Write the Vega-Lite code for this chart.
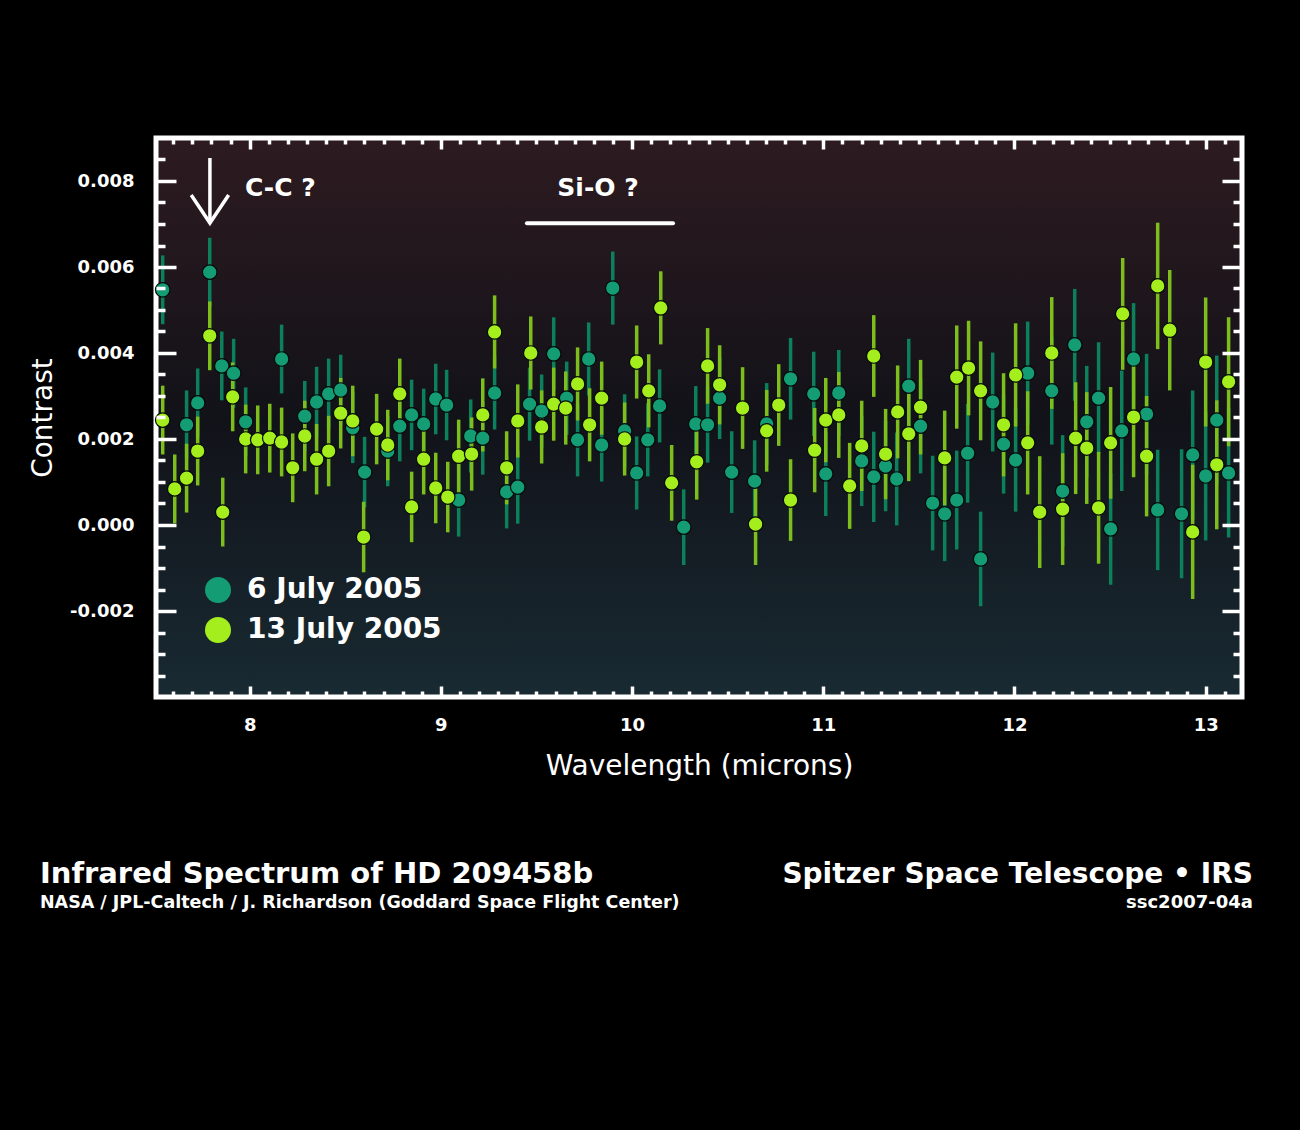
{
  "$schema": "https://vega.github.io/schema/vega-lite/v6.json",
  "width": 1086,
  "height": 559,
  "autosize": {"type": "none"},
  "padding": {"left": 156, "top": 138, "right": 58, "bottom": 433},
  "background": "#000000",
  "config": {"view": {"stroke": null}},
  "datasets": {
    "spectrum": [
      {"wavelength": 7.545, "contrast": 0.00547, "error": 0.0008, "date": "6 July 2005"},
      {"wavelength": 7.670, "contrast": 0.00233, "error": 0.0008, "date": "6 July 2005"},
      {"wavelength": 7.728, "contrast": 0.00284, "error": 0.0008, "date": "6 July 2005"},
      {"wavelength": 7.791, "contrast": 0.00588, "error": 0.0008, "date": "6 July 2005"},
      {"wavelength": 7.854, "contrast": 0.00370, "error": 0.0008, "date": "6 July 2005"},
      {"wavelength": 7.916, "contrast": 0.00353, "error": 0.0008, "date": "6 July 2005"},
      {"wavelength": 7.979, "contrast": 0.00240, "error": 0.0008, "date": "6 July 2005"},
      {"wavelength": 8.167, "contrast": 0.00386, "error": 0.0008, "date": "6 July 2005"},
      {"wavelength": 8.288, "contrast": 0.00253, "error": 0.00082, "date": "6 July 2005"},
      {"wavelength": 8.350, "contrast": 0.00286, "error": 0.00082, "date": "6 July 2005"},
      {"wavelength": 8.413, "contrast": 0.00305, "error": 0.00082, "date": "6 July 2005"},
      {"wavelength": 8.476, "contrast": 0.00314, "error": 0.00082, "date": "6 July 2005"},
      {"wavelength": 8.539, "contrast": 0.00226, "error": 0.00082, "date": "6 July 2005"},
      {"wavelength": 8.601, "contrast": 0.00123, "error": 0.00082, "date": "6 July 2005"},
      {"wavelength": 8.722, "contrast": 0.00172, "error": 0.00082, "date": "6 July 2005"},
      {"wavelength": 8.785, "contrast": 0.00230, "error": 0.00082, "date": "6 July 2005"},
      {"wavelength": 8.847, "contrast": 0.00256, "error": 0.00082, "date": "6 July 2005"},
      {"wavelength": 8.910, "contrast": 0.00235, "error": 0.00082, "date": "6 July 2005"},
      {"wavelength": 8.973, "contrast": 0.00293, "error": 0.00082, "date": "6 July 2005"},
      {"wavelength": 9.030, "contrast": 0.00279, "error": 0.00082, "date": "6 July 2005"},
      {"wavelength": 9.093, "contrast": 0.00058, "error": 0.00085, "date": "6 July 2005"},
      {"wavelength": 9.156, "contrast": 0.00207, "error": 0.00085, "date": "6 July 2005"},
      {"wavelength": 9.219, "contrast": 0.00202, "error": 0.00085, "date": "6 July 2005"},
      {"wavelength": 9.281, "contrast": 0.00307, "error": 0.00085, "date": "6 July 2005"},
      {"wavelength": 9.344, "contrast": 0.00077, "error": 0.00085, "date": "6 July 2005"},
      {"wavelength": 9.402, "contrast": 0.00088, "error": 0.00085, "date": "6 July 2005"},
      {"wavelength": 9.464, "contrast": 0.00281, "error": 0.00085, "date": "6 July 2005"},
      {"wavelength": 9.527, "contrast": 0.00265, "error": 0.00085, "date": "6 July 2005"},
      {"wavelength": 9.590, "contrast": 0.00398, "error": 0.00085, "date": "6 July 2005"},
      {"wavelength": 9.658, "contrast": 0.00295, "error": 0.00085, "date": "6 July 2005"},
      {"wavelength": 9.715, "contrast": 0.00198, "error": 0.00085, "date": "6 July 2005"},
      {"wavelength": 9.773, "contrast": 0.00386, "error": 0.00085, "date": "6 July 2005"},
      {"wavelength": 9.841, "contrast": 0.00186, "error": 0.00085, "date": "6 July 2005"},
      {"wavelength": 9.899, "contrast": 0.00551, "error": 0.00085, "date": "6 July 2005"},
      {"wavelength": 9.961, "contrast": 0.00219, "error": 0.00085, "date": "6 July 2005"},
      {"wavelength": 10.024, "contrast": 0.00121, "error": 0.00085, "date": "6 July 2005"},
      {"wavelength": 10.082, "contrast": 0.00198, "error": 0.00085, "date": "6 July 2005"},
      {"wavelength": 10.144, "contrast": 0.00277, "error": 0.00085, "date": "6 July 2005"},
      {"wavelength": 10.270, "contrast": -0.00005, "error": 0.00088, "date": "6 July 2005"},
      {"wavelength": 10.333, "contrast": 0.00235, "error": 0.00088, "date": "6 July 2005"},
      {"wavelength": 10.395, "contrast": 0.00233, "error": 0.00088, "date": "6 July 2005"},
      {"wavelength": 10.458, "contrast": 0.00295, "error": 0.00095, "date": "6 July 2005"},
      {"wavelength": 10.521, "contrast": 0.00123, "error": 0.00095, "date": "6 July 2005"},
      {"wavelength": 10.641, "contrast": 0.00102, "error": 0.00095, "date": "6 July 2005"},
      {"wavelength": 10.704, "contrast": 0.00235, "error": 0.00095, "date": "6 July 2005"},
      {"wavelength": 10.829, "contrast": 0.00340, "error": 0.00095, "date": "6 July 2005"},
      {"wavelength": 10.950, "contrast": 0.00305, "error": 0.00098, "date": "6 July 2005"},
      {"wavelength": 11.013, "contrast": 0.00119, "error": 0.00098, "date": "6 July 2005"},
      {"wavelength": 11.081, "contrast": 0.00307, "error": 0.001, "date": "6 July 2005"},
      {"wavelength": 11.201, "contrast": 0.00149, "error": 0.00105, "date": "6 July 2005"},
      {"wavelength": 11.264, "contrast": 0.00112, "error": 0.00105, "date": "6 July 2005"},
      {"wavelength": 11.326, "contrast": 0.00137, "error": 0.00105, "date": "6 July 2005"},
      {"wavelength": 11.384, "contrast": 0.00107, "error": 0.00108, "date": "6 July 2005"},
      {"wavelength": 11.447, "contrast": 0.00323, "error": 0.0011, "date": "6 July 2005"},
      {"wavelength": 11.509, "contrast": 0.00230, "error": 0.0011, "date": "6 July 2005"},
      {"wavelength": 11.572, "contrast": 0.00051, "error": 0.0011, "date": "6 July 2005"},
      {"wavelength": 11.635, "contrast": 0.00026, "error": 0.0011, "date": "6 July 2005"},
      {"wavelength": 11.698, "contrast": 0.00058, "error": 0.00115, "date": "6 July 2005"},
      {"wavelength": 11.755, "contrast": 0.00167, "error": 0.00115, "date": "6 July 2005"},
      {"wavelength": 11.823, "contrast": -0.00079, "error": 0.0011, "date": "6 July 2005"},
      {"wavelength": 11.886, "contrast": 0.00286, "error": 0.00115, "date": "6 July 2005"},
      {"wavelength": 11.943, "contrast": 0.00188, "error": 0.00115, "date": "6 July 2005"},
      {"wavelength": 12.006, "contrast": 0.00151, "error": 0.0012, "date": "6 July 2005"},
      {"wavelength": 12.069, "contrast": 0.00353, "error": 0.0012, "date": "6 July 2005"},
      {"wavelength": 12.195, "contrast": 0.00312, "error": 0.00125, "date": "6 July 2005"},
      {"wavelength": 12.252, "contrast": 0.00079, "error": 0.0013, "date": "6 July 2005"},
      {"wavelength": 12.315, "contrast": 0.00419, "error": 0.0013, "date": "6 July 2005"},
      {"wavelength": 12.378, "contrast": 0.00240, "error": 0.0013, "date": "6 July 2005"},
      {"wavelength": 12.440, "contrast": 0.00295, "error": 0.0013, "date": "6 July 2005"},
      {"wavelength": 12.503, "contrast": -0.00009, "error": 0.0013, "date": "6 July 2005"},
      {"wavelength": 12.561, "contrast": 0.00219, "error": 0.0014, "date": "6 July 2005"},
      {"wavelength": 12.623, "contrast": 0.00386, "error": 0.0013, "date": "6 July 2005"},
      {"wavelength": 12.691, "contrast": 0.00258, "error": 0.0014, "date": "6 July 2005"},
      {"wavelength": 12.749, "contrast": 0.00035, "error": 0.0014, "date": "6 July 2005"},
      {"wavelength": 12.874, "contrast": 0.00026, "error": 0.0015, "date": "6 July 2005"},
      {"wavelength": 12.932, "contrast": 0.00163, "error": 0.0015, "date": "6 July 2005"},
      {"wavelength": 13.000, "contrast": 0.00114, "error": 0.0015, "date": "6 July 2005"},
      {"wavelength": 13.058, "contrast": 0.00244, "error": 0.0015, "date": "6 July 2005"},
      {"wavelength": 13.120, "contrast": 0.00121, "error": 0.0015, "date": "6 July 2005"},
      {"wavelength": 7.545, "contrast": 0.00244, "error": 0.0008, "date": "13 July 2005"},
      {"wavelength": 7.608, "contrast": 0.00084, "error": 0.0008, "date": "13 July 2005"},
      {"wavelength": 7.670, "contrast": 0.00109, "error": 0.0008, "date": "13 July 2005"},
      {"wavelength": 7.728, "contrast": 0.00172, "error": 0.0008, "date": "13 July 2005"},
      {"wavelength": 7.791, "contrast": 0.00440, "error": 0.0008, "date": "13 July 2005"},
      {"wavelength": 7.859, "contrast": 0.00030, "error": 0.0008, "date": "13 July 2005"},
      {"wavelength": 7.911, "contrast": 0.00298, "error": 0.0008, "date": "13 July 2005"},
      {"wavelength": 7.979, "contrast": 0.00200, "error": 0.0008, "date": "13 July 2005"},
      {"wavelength": 8.042, "contrast": 0.00198, "error": 0.0008, "date": "13 July 2005"},
      {"wavelength": 8.105, "contrast": 0.00202, "error": 0.0008, "date": "13 July 2005"},
      {"wavelength": 8.167, "contrast": 0.00193, "error": 0.0008, "date": "13 July 2005"},
      {"wavelength": 8.225, "contrast": 0.00133, "error": 0.0008, "date": "13 July 2005"},
      {"wavelength": 8.288, "contrast": 0.00207, "error": 0.00082, "date": "13 July 2005"},
      {"wavelength": 8.350, "contrast": 0.00153, "error": 0.00082, "date": "13 July 2005"},
      {"wavelength": 8.413, "contrast": 0.00172, "error": 0.00082, "date": "13 July 2005"},
      {"wavelength": 8.476, "contrast": 0.00260, "error": 0.00082, "date": "13 July 2005"},
      {"wavelength": 8.539, "contrast": 0.00242, "error": 0.00082, "date": "13 July 2005"},
      {"wavelength": 8.596, "contrast": -0.00028, "error": 0.00082, "date": "13 July 2005"},
      {"wavelength": 8.664, "contrast": 0.00223, "error": 0.00082, "date": "13 July 2005"},
      {"wavelength": 8.722, "contrast": 0.00186, "error": 0.00082, "date": "13 July 2005"},
      {"wavelength": 8.785, "contrast": 0.00305, "error": 0.00082, "date": "13 July 2005"},
      {"wavelength": 8.847, "contrast": 0.00042, "error": 0.00082, "date": "13 July 2005"},
      {"wavelength": 8.910, "contrast": 0.00153, "error": 0.00082, "date": "13 July 2005"},
      {"wavelength": 8.973, "contrast": 0.00086, "error": 0.00082, "date": "13 July 2005"},
      {"wavelength": 9.036, "contrast": 0.00065, "error": 0.00082, "date": "13 July 2005"},
      {"wavelength": 9.093, "contrast": 0.00160, "error": 0.00085, "date": "13 July 2005"},
      {"wavelength": 9.161, "contrast": 0.00165, "error": 0.00085, "date": "13 July 2005"},
      {"wavelength": 9.219, "contrast": 0.00256, "error": 0.00085, "date": "13 July 2005"},
      {"wavelength": 9.281, "contrast": 0.00449, "error": 0.00085, "date": "13 July 2005"},
      {"wavelength": 9.344, "contrast": 0.00133, "error": 0.00085, "date": "13 July 2005"},
      {"wavelength": 9.402, "contrast": 0.00242, "error": 0.00085, "date": "13 July 2005"},
      {"wavelength": 9.470, "contrast": 0.00400, "error": 0.00085, "date": "13 July 2005"},
      {"wavelength": 9.527, "contrast": 0.00228, "error": 0.00085, "date": "13 July 2005"},
      {"wavelength": 9.590, "contrast": 0.00281, "error": 0.00085, "date": "13 July 2005"},
      {"wavelength": 9.653, "contrast": 0.00272, "error": 0.00085, "date": "13 July 2005"},
      {"wavelength": 9.715, "contrast": 0.00328, "error": 0.00085, "date": "13 July 2005"},
      {"wavelength": 9.778, "contrast": 0.00233, "error": 0.00085, "date": "13 July 2005"},
      {"wavelength": 9.841, "contrast": 0.00295, "error": 0.00085, "date": "13 July 2005"},
      {"wavelength": 9.961, "contrast": 0.00200, "error": 0.00085, "date": "13 July 2005"},
      {"wavelength": 10.024, "contrast": 0.00379, "error": 0.00085, "date": "13 July 2005"},
      {"wavelength": 10.087, "contrast": 0.00312, "error": 0.00085, "date": "13 July 2005"},
      {"wavelength": 10.150, "contrast": 0.00505, "error": 0.00085, "date": "13 July 2005"},
      {"wavelength": 10.207, "contrast": 0.00098, "error": 0.00088, "date": "13 July 2005"},
      {"wavelength": 10.338, "contrast": 0.00147, "error": 0.00088, "date": "13 July 2005"},
      {"wavelength": 10.395, "contrast": 0.00370, "error": 0.00088, "date": "13 July 2005"},
      {"wavelength": 10.458, "contrast": 0.00326, "error": 0.00092, "date": "13 July 2005"},
      {"wavelength": 10.578, "contrast": 0.00272, "error": 0.00095, "date": "13 July 2005"},
      {"wavelength": 10.646, "contrast": 0.00002, "error": 0.00095, "date": "13 July 2005"},
      {"wavelength": 10.704, "contrast": 0.00219, "error": 0.00095, "date": "13 July 2005"},
      {"wavelength": 10.767, "contrast": 0.00279, "error": 0.00095, "date": "13 July 2005"},
      {"wavelength": 10.829, "contrast": 0.00058, "error": 0.00095, "date": "13 July 2005"},
      {"wavelength": 10.955, "contrast": 0.00174, "error": 0.00098, "date": "13 July 2005"},
      {"wavelength": 11.013, "contrast": 0.00244, "error": 0.00098, "date": "13 July 2005"},
      {"wavelength": 11.081, "contrast": 0.00256, "error": 0.001, "date": "13 July 2005"},
      {"wavelength": 11.138, "contrast": 0.00091, "error": 0.001, "date": "13 July 2005"},
      {"wavelength": 11.201, "contrast": 0.00184, "error": 0.00105, "date": "13 July 2005"},
      {"wavelength": 11.264, "contrast": 0.00393, "error": 0.00095, "date": "13 July 2005"},
      {"wavelength": 11.326, "contrast": 0.00165, "error": 0.00105, "date": "13 July 2005"},
      {"wavelength": 11.389, "contrast": 0.00263, "error": 0.00108, "date": "13 July 2005"},
      {"wavelength": 11.447, "contrast": 0.00212, "error": 0.0011, "date": "13 July 2005"},
      {"wavelength": 11.509, "contrast": 0.00274, "error": 0.0011, "date": "13 July 2005"},
      {"wavelength": 11.635, "contrast": 0.00156, "error": 0.0011, "date": "13 July 2005"},
      {"wavelength": 11.698, "contrast": 0.00344, "error": 0.0012, "date": "13 July 2005"},
      {"wavelength": 11.760, "contrast": 0.00365, "error": 0.0011, "date": "13 July 2005"},
      {"wavelength": 11.823, "contrast": 0.00312, "error": 0.00115, "date": "13 July 2005"},
      {"wavelength": 11.943, "contrast": 0.00233, "error": 0.0012, "date": "13 July 2005"},
      {"wavelength": 12.006, "contrast": 0.00349, "error": 0.0012, "date": "13 July 2005"},
      {"wavelength": 12.069, "contrast": 0.00191, "error": 0.0012, "date": "13 July 2005"},
      {"wavelength": 12.132, "contrast": 0.00030, "error": 0.0013, "date": "13 July 2005"},
      {"wavelength": 12.195, "contrast": 0.00400, "error": 0.0013, "date": "13 July 2005"},
      {"wavelength": 12.252, "contrast": 0.00037, "error": 0.0013, "date": "13 July 2005"},
      {"wavelength": 12.320, "contrast": 0.00202, "error": 0.0013, "date": "13 July 2005"},
      {"wavelength": 12.378, "contrast": 0.00179, "error": 0.0013, "date": "13 July 2005"},
      {"wavelength": 12.440, "contrast": 0.00040, "error": 0.0013, "date": "13 July 2005"},
      {"wavelength": 12.503, "contrast": 0.00191, "error": 0.0013, "date": "13 July 2005"},
      {"wavelength": 12.566, "contrast": 0.00491, "error": 0.0013, "date": "13 July 2005"},
      {"wavelength": 12.623, "contrast": 0.00251, "error": 0.0014, "date": "13 July 2005"},
      {"wavelength": 12.691, "contrast": 0.00160, "error": 0.0014, "date": "13 July 2005"},
      {"wavelength": 12.749, "contrast": 0.00556, "error": 0.00147, "date": "13 July 2005"},
      {"wavelength": 12.812, "contrast": 0.00453, "error": 0.0014, "date": "13 July 2005"},
      {"wavelength": 12.932, "contrast": -0.00016, "error": 0.00156, "date": "13 July 2005"},
      {"wavelength": 13.000, "contrast": 0.00379, "error": 0.0015, "date": "13 July 2005"},
      {"wavelength": 13.058, "contrast": 0.00140, "error": 0.0015, "date": "13 July 2005"},
      {"wavelength": 13.120, "contrast": 0.00333, "error": 0.0015, "date": "13 July 2005"}
    ]
  },
  "layer": [
    {
      "data": {"values": [{}]},
      "mark": {
        "type": "rect",
        "stroke": "#ffffff",
        "strokeWidth": 5,
        "fill": {
          "gradient": "linear", "x1": 0, "y1": 0, "x2": 0, "y2": 1,
          "stops": [
            {"offset": 0, "color": "#2d1b20"},
            {"offset": 0.5, "color": "#121219"},
            {"offset": 1, "color": "#182a32"}
          ]
        }
      },
      "encoding": {
        "x": {"datum": 7.51, "type": "quantitative", "scale": {"domain": [7.51, 13.19], "nice": false, "zero": false}, "axis": null},
        "x2": {"datum": 13.19},
        "y": {"datum": 0.009, "type": "quantitative", "scale": {"domain": [-0.004, 0.009], "nice": false, "zero": false}, "axis": null},
        "y2": {"datum": -0.004}
      }
    },
    {
      "data": {"name": "spectrum"},
      "mark": {"type": "errorbar", "thickness": 3.5},
      "encoding": {
        "x": {
          "field": "wavelength", "type": "quantitative",
          "scale": {"domain": [7.51, 13.19], "nice": false, "zero": false},
          "axis": {
            "orient": "bottom",
            "values": [7.6, 7.7, 7.8, 7.9, 8, 8.1, 8.2, 8.3, 8.4, 8.5, 8.6, 8.7, 8.8, 8.9, 9, 9.1, 9.2, 9.3, 9.4, 9.5, 9.6, 9.7, 9.8, 9.9, 10, 10.1, 10.2, 10.3, 10.4, 10.5, 10.6, 10.7, 10.8, 10.9, 11, 11.1, 11.2, 11.3, 11.4, 11.5, 11.6, 11.7, 11.8, 11.9, 12, 12.1, 12.2, 12.3, 12.4, 12.5, 12.6, 12.7, 12.8, 12.9, 13, 13.1],
            "domain": false, "grid": false, "zindex": 1,
            "tickColor": "#ffffff", "tickWidth": 3.5,
            "tickSize": {"condition": {"test": "abs(datum.value - round(datum.value)) < 0.001", "value": -11}, "value": -6},
            "labelExpr": "abs(datum.value - round(datum.value)) < 0.001 ? format(datum.value, 'd') : ''",
            "labelPadding": 30, "labelColor": "#ffffff", "labelFont": "DejaVu Sans", "labelFontSize": 18, "labelFontWeight": "bold",
            "labelOverlap": false, "labelFlush": false, "labelBound": false,
            "title": "Wavelength (microns)", "titleColor": "#ffffff", "titleFont": "DejaVu Sans", "titleFontSize": 28, "titleFontWeight": "normal", "titlePadding": 13
          }
        },
        "y": {
          "field": "contrast", "type": "quantitative",
          "scale": {"domain": [-0.004, 0.009], "nice": false, "zero": false},
          "axis": {
            "orient": "left",
            "values": [-0.0035, -0.003, -0.0025, -0.002, -0.0015, -0.001, -0.0005, 0, 0.0005, 0.001, 0.0015, 0.002, 0.0025, 0.003, 0.0035, 0.004, 0.0045, 0.005, 0.0055, 0.006, 0.0065, 0.007, 0.0075, 0.008, 0.0085],
            "domain": false, "grid": false, "zindex": 1,
            "tickColor": "#ffffff", "tickWidth": 3.5,
            "tickSize": {"condition": {"test": "abs(datum.value / 0.002 - round(datum.value / 0.002)) < 0.01", "value": -20}, "value": -9},
            "labelExpr": "abs(datum.value / 0.002 - round(datum.value / 0.002)) < 0.01 ? replace(format(datum.value, '.3f'), '\u2212', '-') : ''",
            "labelPadding": 42, "labelColor": "#ffffff", "labelFont": "DejaVu Sans", "labelFontSize": 18, "labelFontWeight": "bold",
            "labelOverlap": false, "labelFlush": false, "labelBound": false,
            "title": "Contrast", "titleColor": "#ffffff", "titleFont": "DejaVu Sans", "titleFontSize": 28, "titleFontWeight": "normal", "titlePadding": 12
          }
        },
        "yError": {"field": "error"},
        "color": {
          "field": "date", "type": "nominal",
          "scale": {"domain": ["6 July 2005", "13 July 2005"], "range": ["#0c7f5b", "#7dbd1c"]},
          "legend": null
        }
      }
    },
    {
      "data": {"name": "spectrum"},
      "mark": {"type": "point", "filled": true, "size": 210, "opacity": 1, "stroke": "#050a08", "strokeWidth": 1.2},
      "encoding": {
        "x": {
          "field": "wavelength", "type": "quantitative",
          "scale": {"domain": [7.51, 13.19], "nice": false, "zero": false},
          "axis": {
            "orient": "top",
            "values": [7.6, 7.7, 7.8, 7.9, 8, 8.1, 8.2, 8.3, 8.4, 8.5, 8.6, 8.7, 8.8, 8.9, 9, 9.1, 9.2, 9.3, 9.4, 9.5, 9.6, 9.7, 9.8, 9.9, 10, 10.1, 10.2, 10.3, 10.4, 10.5, 10.6, 10.7, 10.8, 10.9, 11, 11.1, 11.2, 11.3, 11.4, 11.5, 11.6, 11.7, 11.8, 11.9, 12, 12.1, 12.2, 12.3, 12.4, 12.5, 12.6, 12.7, 12.8, 12.9, 13, 13.1],
            "domain": false, "grid": false, "zindex": 1, "labels": false, "title": null,
            "tickColor": "#ffffff", "tickWidth": 3.5,
            "tickSize": {"condition": {"test": "abs(datum.value - round(datum.value)) < 0.001", "value": -11}, "value": -6}
          }
        },
        "y": {
          "field": "contrast", "type": "quantitative",
          "scale": {"domain": [-0.004, 0.009], "nice": false, "zero": false},
          "axis": {
            "orient": "right",
            "values": [-0.0035, -0.003, -0.0025, -0.002, -0.0015, -0.001, -0.0005, 0, 0.0005, 0.001, 0.0015, 0.002, 0.0025, 0.003, 0.0035, 0.004, 0.0045, 0.005, 0.0055, 0.006, 0.0065, 0.007, 0.0075, 0.008, 0.0085],
            "domain": false, "grid": false, "zindex": 1, "labels": false, "title": null,
            "tickColor": "#ffffff", "tickWidth": 3.5,
            "tickSize": {"condition": {"test": "abs(datum.value / 0.002 - round(datum.value / 0.002)) < 0.01", "value": -20}, "value": -9}
          }
        },
        "color": {
          "field": "date", "type": "nominal",
          "scale": {"domain": ["6 July 2005", "13 July 2005"], "range": ["#149d74", "#a4ee1d"]},
          "legend": {
            "orient": "none", "legendX": 48, "legendY": 438, "title": null,
            "symbolType": "circle", "symbolSize": 676, "symbolStrokeWidth": 0,
            "labelFontSize": 28, "labelFontWeight": "bold", "labelColor": "#ffffff", "labelFont": "DejaVu Sans", "labelOffset": 15,
            "labelLimit": 0, "rowPadding": 12
          }
        }
      }
    },
    {
      "data": {"values": [{}]},
      "mark": {"type": "rule", "color": "#ffffff", "strokeWidth": 3.5},
      "encoding": {
        "x": {"datum": 7.792, "type": "quantitative", "scale": {"domain": [7.51, 13.19], "nice": false, "zero": false}, "axis": null},
        "y": {"datum": 0.008535, "type": "quantitative", "scale": {"domain": [-0.004, 0.009], "nice": false, "zero": false}, "axis": null},
        "y2": {"datum": 0.00705}
      }
    },
    {
      "data": {"values": [{}]},
      "mark": {"type": "point", "shape": "M-1,-0.75L0,0.75L1,-0.75", "filled": false, "size": 1400, "stroke": "#ffffff", "strokeWidth": 3.5, "opacity": 1, "strokeJoin": "miter"},
      "encoding": {
        "x": {"datum": 7.792, "type": "quantitative", "scale": {"domain": [7.51, 13.19], "nice": false, "zero": false}, "axis": null},
        "y": {"datum": 0.00735, "type": "quantitative", "scale": {"domain": [-0.004, 0.009], "nice": false, "zero": false}, "axis": null}
      }
    },
    {
      "data": {"values": [{}]},
      "mark": {"type": "rule", "color": "#ffffff", "strokeWidth": 4, "strokeCap": "round"},
      "encoding": {
        "x": {"datum": 9.45, "type": "quantitative", "scale": {"domain": [7.51, 13.19], "nice": false, "zero": false}, "axis": null},
        "x2": {"datum": 10.214},
        "y": {"datum": 0.00702, "type": "quantitative", "scale": {"domain": [-0.004, 0.009], "nice": false, "zero": false}, "axis": null}
      }
    },
    {
      "data": {"values": [{"label": "C-C ?"}]},
      "mark": {"type": "text", "color": "#ffffff", "font": "DejaVu Sans", "fontSize": 25, "fontWeight": "bold", "align": "left", "baseline": "middle"},
      "encoding": {
        "x": {"datum": 7.975, "type": "quantitative", "scale": {"domain": [7.51, 13.19], "nice": false, "zero": false}, "axis": null},
        "y": {"datum": 0.00784, "type": "quantitative", "scale": {"domain": [-0.004, 0.009], "nice": false, "zero": false}, "axis": null},
        "text": {"field": "label"}
      }
    },
    {
      "data": {"values": [{"label": "Si-O ?"}]},
      "mark": {"type": "text", "color": "#ffffff", "font": "DejaVu Sans", "fontSize": 25, "fontWeight": "bold", "align": "center", "baseline": "middle"},
      "encoding": {
        "x": {"datum": 9.822, "type": "quantitative", "scale": {"domain": [7.51, 13.19], "nice": false, "zero": false}, "axis": null},
        "y": {"datum": 0.00784, "type": "quantitative", "scale": {"domain": [-0.004, 0.009], "nice": false, "zero": false}, "axis": null},
        "text": {"field": "label"}
      }
    },
    {
      "data": {"values": [{"text": "Infrared Spectrum of HD 209458b"}]},
      "mark": {"type": "text", "color": "#ffffff", "font": "DejaVu Sans", "fontSize": 29, "fontWeight": "bold", "align": "left", "baseline": "alphabetic"},
      "encoding": {
        "x": {"datum": 6.903, "type": "quantitative", "scale": {"domain": [7.51, 13.19], "nice": false, "zero": false}, "axis": null},
        "y": {"datum": -0.00833, "type": "quantitative", "scale": {"domain": [-0.004, 0.009], "nice": false, "zero": false}, "axis": null},
        "text": {"field": "text"}
      }
    },
    {
      "data": {"values": [{"text": "NASA / JPL-Caltech / J. Richardson (Goddard Space Flight Center)"}]},
      "mark": {"type": "text", "color": "#ffffff", "font": "DejaVu Sans", "fontSize": 17.5, "fontWeight": "bold", "align": "left", "baseline": "alphabetic"},
      "encoding": {
        "x": {"datum": 6.903, "type": "quantitative", "scale": {"domain": [7.51, 13.19], "nice": false, "zero": false}, "axis": null},
        "y": {"datum": -0.00891, "type": "quantitative", "scale": {"domain": [-0.004, 0.009], "nice": false, "zero": false}, "axis": null},
        "text": {"field": "text"}
      }
    },
    {
      "data": {"values": [{"text": "Spitzer Space Telescope \u2022 IRS"}]},
      "mark": {"type": "text", "color": "#ffffff", "font": "DejaVu Sans", "fontSize": 28, "fontWeight": "bold", "align": "right", "baseline": "alphabetic"},
      "encoding": {
        "x": {"datum": 13.247, "type": "quantitative", "scale": {"domain": [7.51, 13.19], "nice": false, "zero": false}, "axis": null},
        "y": {"datum": -0.00833, "type": "quantitative", "scale": {"domain": [-0.004, 0.009], "nice": false, "zero": false}, "axis": null},
        "text": {"field": "text"}
      }
    },
    {
      "data": {"values": [{"text": "ssc2007-04a"}]},
      "mark": {"type": "text", "color": "#ffffff", "font": "DejaVu Sans", "fontSize": 18, "fontWeight": "bold", "align": "right", "baseline": "alphabetic"},
      "encoding": {
        "x": {"datum": 13.247, "type": "quantitative", "scale": {"domain": [7.51, 13.19], "nice": false, "zero": false}, "axis": null},
        "y": {"datum": -0.00891, "type": "quantitative", "scale": {"domain": [-0.004, 0.009], "nice": false, "zero": false}, "axis": null},
        "text": {"field": "text"}
      }
    }
  ],
  "resolve": {
    "scale": {"color": "independent"},
    "axis": {"x": "independent", "y": "independent"}
  }
}
